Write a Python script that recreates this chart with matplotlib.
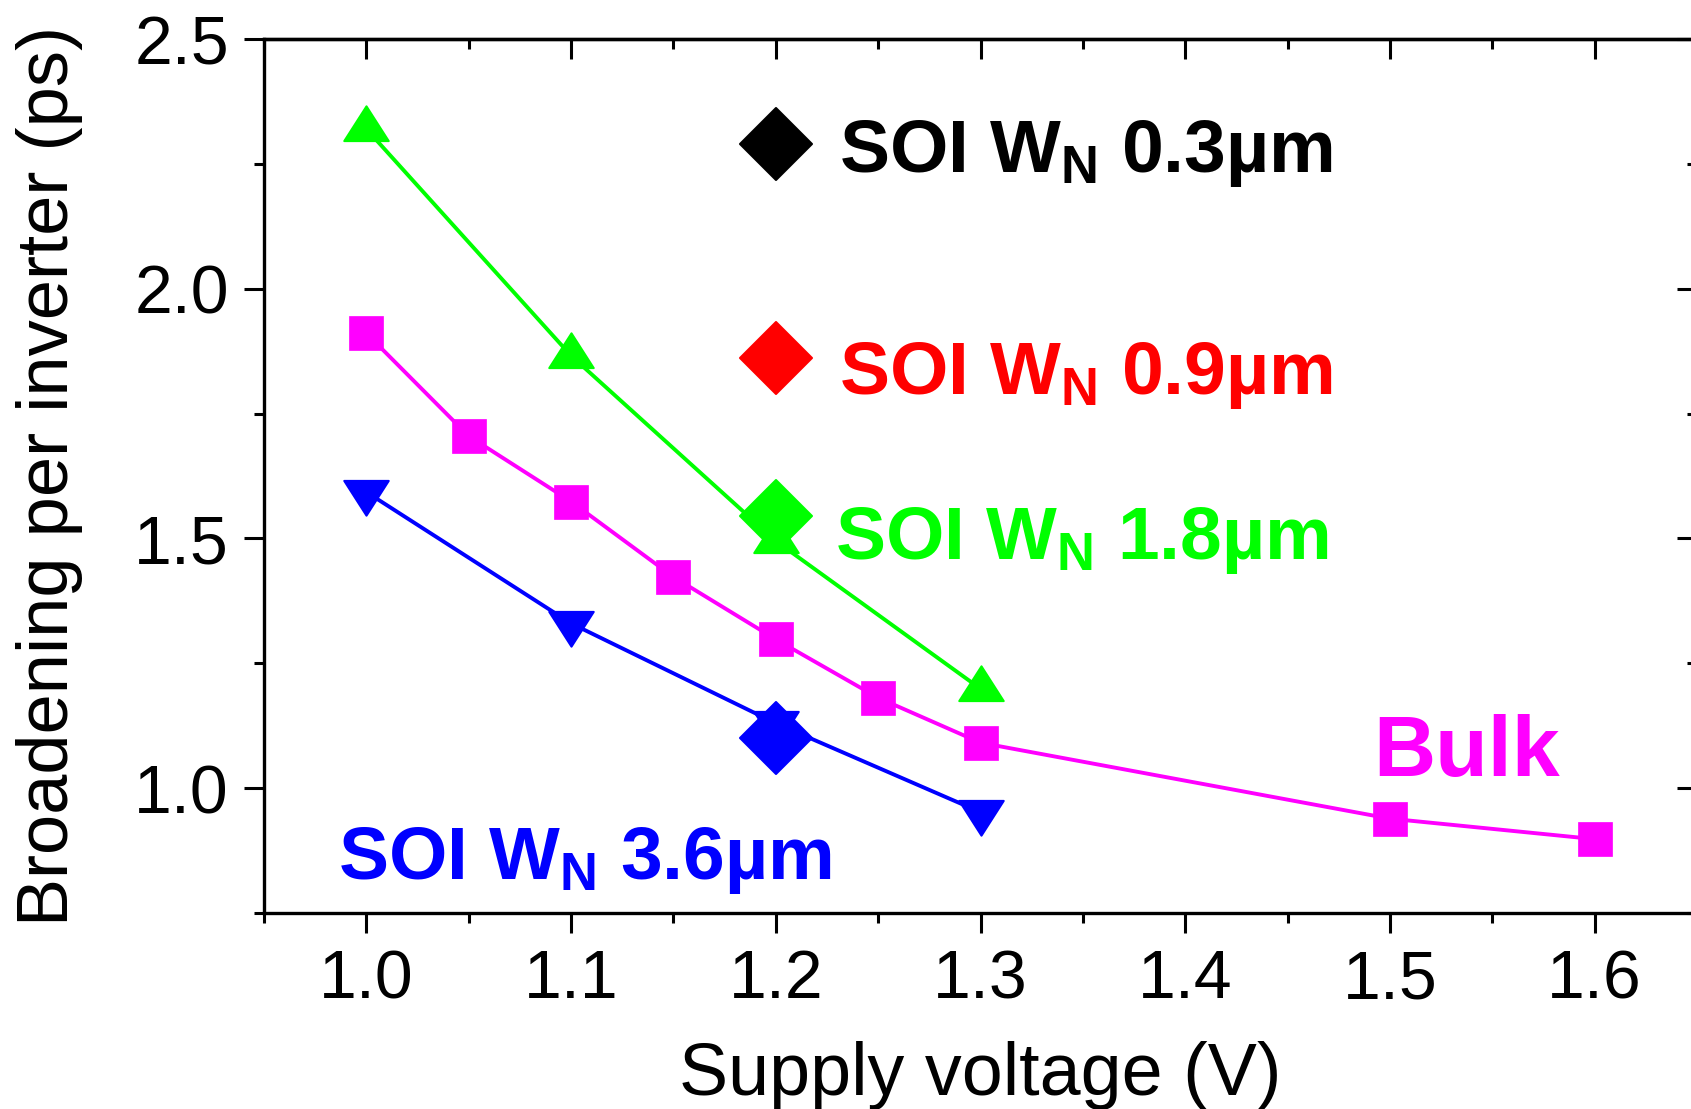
import matplotlib
matplotlib.use("Agg")
import matplotlib.pyplot as plt
from matplotlib.markers import MarkerStyle
from matplotlib.path import Path
from matplotlib.ticker import MultipleLocator, FormatStrFormatter, NullFormatter

plt.rcParams["font.family"] = ["Liberation Sans", "DejaVu Sans"]
plt.rcParams["mathtext.fontset"] = "custom"
plt.rcParams["mathtext.rm"] = "Liberation Sans"
plt.rcParams["mathtext.bf"] = "Liberation Sans:bold"

# broadening per inverter (ps) against supply voltage (V)
bulk_v = [1.0, 1.05, 1.1, 1.15, 1.2, 1.25, 1.3, 1.5, 1.6]
bulk_ps = [1.911, 1.705, 1.574, 1.423, 1.298, 1.181, 1.091, 0.939, 0.898]

soi18_v = [1.0, 1.1, 1.2, 1.3]
soi18_ps = [2.32, 1.866, 1.495, 1.199]

soi36_v = [1.0, 1.1, 1.2, 1.3]
soi36_ps = [1.593, 1.330, 1.13, 0.952]

# single SOI points at 1.2 V, one per nMOS width
soi_point_v = 1.2
soi_widths = ["0.3", "0.9", "1.8", "3.6"]
soi_colors = ["#000000", "#ff0000", "#00ff00", "#0000ff"]
soi_point_ps = [2.289, 1.862, 1.545, 1.10]

GREEN = "#00ff00"
MAGENTA = "#ff00ff"
BLUE = "#0000ff"
LW = 2.8


def triangle(w, h, up=True):
    # triangle centred on its centroid, sized in points
    s = 1 if up else -1
    verts = [(0, s * 2 * h / 3), (-w / 2, -s * h / 3), (w / 2, -s * h / 3), (0, 0)]
    codes = [Path.MOVETO, Path.LINETO, Path.LINETO, Path.CLOSEPOLY]
    size = 2 * max(2 * h / 3, w / 2)
    return MarkerStyle(Path(verts, codes), joinstyle="round"), size


tri_up, tri_size = triangle(32, 25, up=True)
tri_down, _ = triangle(32, 25, up=False)

fig = plt.figure(figsize=(16.91, 11.09), dpi=100)
ax = fig.add_axes([0.1561, 0.1767, 0.8475, 0.7881])

ax.plot(soi18_v, soi18_ps, color=GREEN, lw=LW, marker=tri_up, ms=tri_size,
        mec=GREEN, mew=1.5, zorder=3)
ax.plot(bulk_v, bulk_ps, color=MAGENTA, lw=LW, marker="s", ms=24,
        mec=MAGENTA, mew=0.5, zorder=3)
ax.plot(soi36_v, soi36_ps, color=BLUE, lw=LW, marker=tri_down, ms=tri_size,
        mec=BLUE, mew=1.5, zorder=3)

diamond = MarkerStyle("D", joinstyle="round")
for ps, c in zip(soi_point_ps, soi_colors):
    ax.plot([soi_point_v], [ps], linestyle="none", marker=diamond, ms=37,
            color=c, mec=c, mew=1.5, zorder=4)

label_pos = [(1.231, 2.233), (1.231, 1.790), (1.229, 1.459), (0.986, 0.818)]
for w, c, (x, y) in zip(soi_widths, soi_colors, label_pos):
    ax.text(x, y, "SOI $\\mathbf{W_N}$ " + w + "µm", color=c, fontsize=54,
            fontweight="bold", va="baseline", ha="left")
ax.text(1.4916, 1.025, "Bulk", color=MAGENTA, fontsize=62, fontweight="bold",
        va="baseline", ha="left")

ax.set_xlim(0.95, 1.65)
ax.set_ylim(0.75, 2.5)
ax.xaxis.set_major_locator(MultipleLocator(0.1))
ax.xaxis.set_minor_locator(MultipleLocator(0.05))
ax.yaxis.set_major_locator(MultipleLocator(0.5))
ax.yaxis.set_minor_locator(MultipleLocator(0.25))
ax.xaxis.set_major_formatter(FormatStrFormatter("%.1f"))
ax.yaxis.set_major_formatter(FormatStrFormatter("%.1f"))

ax.tick_params(which="both", direction="out", width=2.2, labelsize=49, pad=10.8,
               top=False, right=False)
ax.tick_params(which="major", length=14.4)
ax.tick_params(which="minor", length=7.2)
for sp in ax.spines.values():
    sp.set_linewidth(2.4)

# inward ticks along the top and right edges
top = ax.secondary_xaxis("top")
top.xaxis.set_major_locator(MultipleLocator(0.1))
top.xaxis.set_minor_locator(MultipleLocator(0.05))
top.xaxis.set_major_formatter(NullFormatter())
right = ax.secondary_yaxis("right")
right.yaxis.set_major_locator(MultipleLocator(0.5))
right.yaxis.set_minor_locator(MultipleLocator(0.25))
right.yaxis.set_major_formatter(NullFormatter())
for sec in (top, right):
    sec.tick_params(which="both", direction="in", width=2.2)
    sec.tick_params(which="major", length=14.4)
    sec.tick_params(which="minor", length=7.2)
    for sp in sec.spines.values():
        sp.set_linewidth(2.4)

ax.set_xlabel("Supply voltage (V)", fontsize=53, labelpad=21)
ax.set_ylabel("Broadening per inverter (ps)", fontsize=52, labelpad=37)

fig.savefig("out.png", dpi=100)
